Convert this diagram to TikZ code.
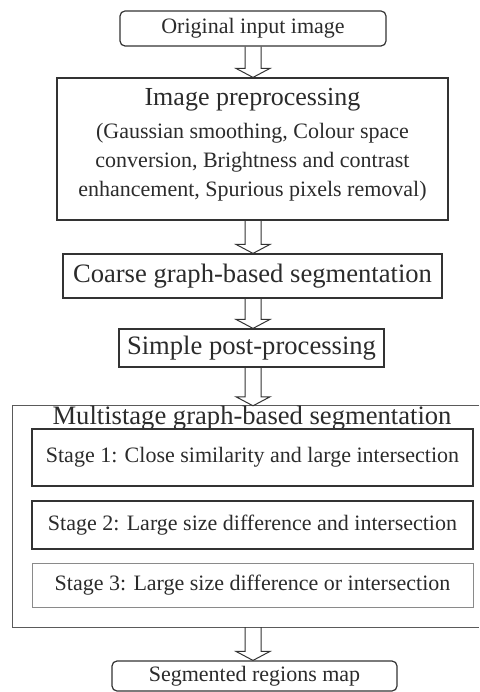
\documentclass[tikz,border=0pt]{standalone}
\usepackage{fontspec}
\setmainfont{Liberation Serif}
\usetikzlibrary{calc}
\definecolor{ink}{HTML}{2B2B2B}
\definecolor{frame}{HTML}{333333}
\definecolor{lightframe}{HTML}{8A8A8A}
\definecolor{midframe}{HTML}{5A5A5A}
\tikzset{
  box/.style={draw=frame, line width=1.2pt, inner sep=0pt, text=ink},
  roundbox/.style={box, rounded corners=5pt},
  smalltext/.style={font=\fontsize{22}{29}\selectfont, text=ink},
  bigtext/.style={font=\fontsize{26.6}{30}\selectfont, text=ink},
  blockarrow/.style={draw=frame, line width=1pt, line join=miter},
}
\newcommand\flowarrow[2]{\draw[blockarrow] let \p1=(#1.south), \p2=(#2.north) in
  (253pt-8pt,\y1) -- (253pt-8pt,\y2+9pt) -- (253pt-17pt,\y2+9pt) -- (253pt,\y2)
  -- (253pt+17pt,\y2+9pt) -- (253pt+8pt,\y2+9pt) -- (253pt+8pt,\y1);}
\begin{document}
\begin{tikzpicture}[x=1pt,y=-1pt]
\useasboundingbox (0,0) rectangle (479,692);
% top box
\node[roundbox, smalltext, minimum width=266pt, minimum height=35pt] (orig) at (253,28.5) {Original input image};
% preprocessing
\node[box, minimum width=391pt, minimum height=142pt] (prep) at (252.5,149) {};
\node[bigtext, font=\fontsize{26}{30}\selectfont, inner sep=0pt] (preptitle) at (252.5,100) {Image preprocessing};
\node[smalltext, align=center, inner sep=0pt] (prepdetail) at (252.5,162) {(Gaussian smoothing, Colour space\\conversion, Brightness and contrast\\enhancement, Spurious pixels removal)};
% coarse
\node[box, bigtext, minimum width=379pt, minimum height=44pt] (coarse) at (252.5,276) {Coarse graph-based segmentation};
% simple
\node[box, bigtext, minimum width=265pt, minimum height=38pt] (simple) at (251.5,348) {Simple post-processing};
% multistage container
\node[inner sep=0pt, minimum width=466pt, minimum height=221pt] (multi) at (246,516.5) {};
\draw[draw=midframe, line width=0.8pt] (multi.north east) -- (multi.north west) -- (multi.south west) -- (multi.south east);
\node[bigtext, inner sep=0pt] (multititle) at (252,418) {Multistage graph-based segmentation};
\node[box, smalltext, minimum width=441pt, minimum height=57pt] (stage1) at (252.5,457.5) {Stage 1: Close similarity and large intersection};
\node[box, smalltext, minimum width=441pt, minimum height=48pt] (stage2) at (252.5,525) {Stage 2: Large size difference and intersection};
\node[box, smalltext, draw=lightframe, line width=0.9pt, minimum width=441pt, minimum height=44pt] (stage3) at (252.5,585) {Stage 3: Large size difference or intersection};
% bottom
\node[roundbox, smalltext, minimum width=285pt, minimum height=30pt] (seg) at (254.5,676) {Segmented regions map};
% arrows
\flowarrow{orig}{prep}
\flowarrow{prep}{coarse}
\flowarrow{coarse}{simple}
\flowarrow{simple}{multi}
\flowarrow{multi}{seg}
\end{tikzpicture}
\end{document}
